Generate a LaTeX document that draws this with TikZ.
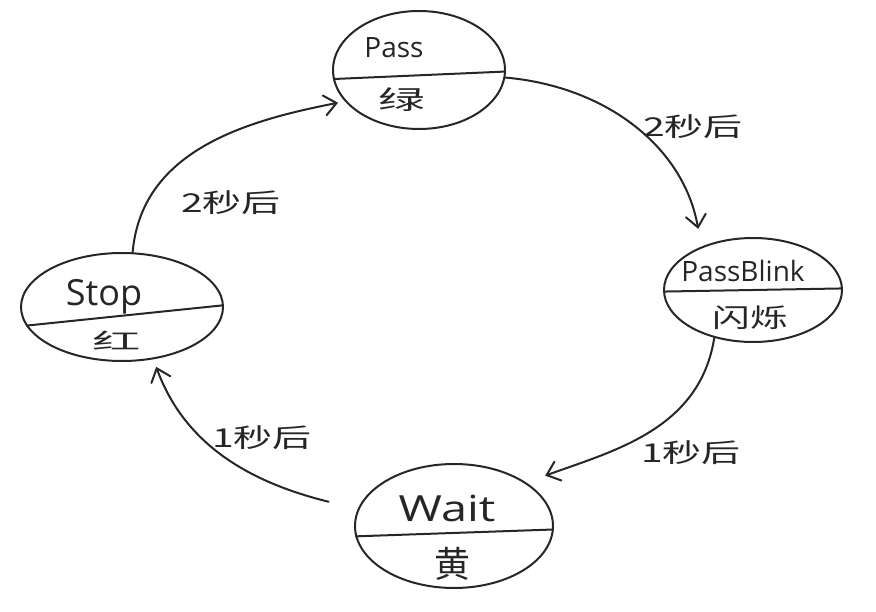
\documentclass[tikz,border=0pt]{standalone}
\usepackage{fontspec}
\usepackage{graphicx}
\setmainfont{Open Sans}
\newfontfamily\cjk{Noto Sans CJK SC}
\usetikzlibrary{arrows.meta,shapes.geometric}
\definecolor{ink}{HTML}{262626}
% stretch a piece of text horizontally
\newcommand{\wide}[2]{\scalebox{#1}[1]{#2}}
\begin{document}
\begin{tikzpicture}[x=1pt,y=-1pt,
  state/.style={draw=ink,line width=2pt,ellipse,inner sep=0pt},
  divider/.style={draw=ink,line width=2pt},
  flow/.style={draw=ink,line width=2pt,line cap=round,
    -{Straight Barb[length=12pt,width=20pt,line cap=round]}},
  statelabel/.style={text=ink,inner sep=0pt,font=\fontsize{28}{30}\selectfont},
  bigstatelabel/.style={text=ink,inner sep=0pt,font=\fontsize{36}{38}\selectfont},
  hanzi/.style={text=ink,inner sep=0pt,font=\cjk\fontsize{26}{28}\selectfont},
  tag/.style={text=ink,inner sep=0pt,font=\cjk\fontsize{26}{28}\selectfont}]
\useasboundingbox (0,0) rectangle (876,612);

% the four states
\node[state,minimum width=172pt,minimum height=118pt] (pass) at (419,70) {};
\node[state,minimum width=178pt,minimum height=104pt] (blink) at (753,290) {};
\node[state,minimum width=198pt,minimum height=124pt] (wait) at (454,526) {};
\node[state,minimum width=202pt,minimum height=108pt] (stop) at (122,307) {};

% dividing lines between state name and colour
\draw[divider] (pass.186) -- (pass.-1);
\draw[divider] (blink.181) -- (blink.1);
\draw[divider] (wait.186) -- (wait.-2);
\draw[divider] (stop.191) -- (stop.1);

% state names and colours
\node[statelabel] (passname) at (394,48) {Pass};
\node[hanzi] (passcol) at (402,100) {\wide{1.8}{绿}};
\node[statelabel] (blinkname) at (743,271) {PassBlink};
\node[hanzi] (blinkcol) at (750,318) {\wide{1.45}{闪烁}};
\node[bigstatelabel] (waitname) at (447,508) {\wide{1.3}{Wait}};
\node[hanzi,font=\cjk\fontsize{36}{38}\selectfont] (waitcol) at (452,564) {黄};
\node[bigstatelabel] (stopname) at (104,297) {Stop};
\node[hanzi,font=\cjk\fontsize{22}{24}\selectfont] (stopcol) at (117,341) {\wide{2.2}{红}};

% transitions
\draw[flow,shorten >=7pt] (stop.79) to[out=85,in=191] (pass.203);
\draw[flow,shorten >=18pt] (pass.-5) to[out=-5,in=100] (blink.140);
\draw[flow,shorten >=20pt] (blink.231) to[out=-99,in=20] (wait.31);
\draw[flow,shorten <=30pt,shorten >=8pt] (wait.170) to[out=166,in=-70] (stop.-59);

% transition labels
\node[tag] (t1) at (231,203) {\wide{1.5}{2秒后}};
\node[tag] (t2) at (693,127) {\wide{1.5}{2秒后}};
\node[tag] (t3) at (691,453) {\wide{1.5}{1秒后}};
\node[tag] (t4) at (262,438) {\wide{1.5}{1秒后}};
\end{tikzpicture}
\end{document}
